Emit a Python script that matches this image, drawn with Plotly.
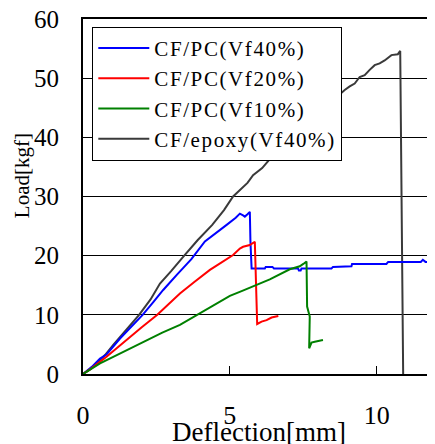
import plotly.graph_objects as go

# CF/PC (Vf40%)
pc40_x = [0, 0.3, 0.58, 0.8, 1.26, 1.6, 2.03, 2.4, 2.73, 3.2, 3.69, 4.15, 4.5, 4.89, 5.2, 5.34, 5.45,
          5.51, 5.6, 5.68, 5.70, 5.74, 6.19, 6.22, 6.45, 6.5, 7.32, 7.35, 7.41, 7.44, 8.46, 8.51, 9.14,
          9.16, 10.33, 10.39, 11.5, 11.57, 11.66, 11.97]
pc40_y = [0, 1.2, 2.6, 3.3, 6.0, 7.8, 10.0, 12.2, 14.2, 16.8, 19.4, 22.4, 23.8, 25.2, 26.4, 27.1, 26.8,
          26.6, 27.0, 27.4, 22.5, 17.85, 17.85, 18.1, 18.1, 17.85, 17.85, 17.5, 17.5, 17.85, 17.85, 18.1,
          18.2, 18.6, 18.6, 18.95, 18.95, 19.3, 18.95, 18.95]

# CF/PC (Vf20%)
pc20_x = [0, 0.3, 0.8, 1.2, 1.6, 2.0, 2.53, 3.0, 3.3, 3.8, 4.32, 4.6, 5.0, 5.11, 5.34, 5.45, 5.68,
          5.79, 5.85, 5.9, 5.93, 6.08, 6.25, 6.42, 6.65]
pc20_y = [0, 1.0, 2.9, 4.6, 6.3, 7.9, 10.0, 12.2, 13.6, 15.6, 17.6, 18.5, 19.7, 20.1, 21.2, 21.5, 21.8,
          22.1, 22.35, 13.6, 8.45, 8.85, 9.1, 9.55, 9.8]

# CF/PC (Vf10%)
pc10_x = [0, 0.3, 0.58, 1.03, 1.6, 2.16, 2.7, 3.3, 3.9, 4.45, 5.0, 5.4, 5.85, 6.36, 7.04, 7.38, 7.5,
          7.61, 7.63, 7.72, 7.70, 7.78, 7.89, 8.17]
pc10_y = [0, 1.0, 1.8, 2.9, 4.3, 5.7, 7.0, 8.3, 10.0, 11.6, 13.2, 14.0, 14.9, 16.0, 17.7, 18.2, 18.6,
          19.0, 11.4, 9.7, 4.34, 5.3, 5.45, 5.74]

# CF/epoxy (Vf40%)
ep_x = [0, 0.25, 0.46, 0.75, 1.03, 1.4, 1.91, 2.3, 2.62, 3.0, 3.3, 3.41, 3.9, 4.4, 4.8, 5.11, 5.6,
        5.79, 6.1, 6.58, 7.3, 8.1, 8.91, 9.08, 9.25, 9.42, 9.59, 9.76, 9.93, 10.1, 10.27, 10.5, 10.72,
        10.8, 10.86, 10.9]
ep_y = [0, 0.8, 1.8, 3.2, 4.9, 7.0, 10.0, 12.6, 15.3, 17.4, 19.3, 19.8, 22.6, 25.2, 27.7, 30.0, 32.3,
        33.6, 34.8, 37.6, 41.0, 44.5, 48.0, 48.6, 49.1, 50.2, 50.5, 51.4, 52.2, 52.5, 53.0, 53.9, 54.05,
        54.6, 20.0, 0]

series_names = ["CF/PC(Vf40%)", "CF/PC(Vf20%)", "CF/PC(Vf10%)", "CF/epoxy(Vf40%)"]
series_x = [pc40_x, pc20_x, pc10_x, ep_x]
series_y = [pc40_y, pc20_y, pc10_y, ep_y]
series_colors = ["#0000FF", "#FF0000", "#008000", "#3A3A3A"]

x_ticks = [0, 5, 10]
y_ticks = [0, 10, 20, 30, 40, 50, 60]

FONT = "Liberation Serif, Times New Roman, serif"

fig = go.Figure()
order = [3, 0, 1, 2]
for i in order:
    fig.add_trace(go.Scatter(
        x=series_x[i], y=series_y[i], mode="lines",
        name='<span style="letter-spacing:1.6px">' + series_names[i] + '</span>',
        line=dict(color=series_colors[i], width=2), legendrank=i + 1,
    ))

# the page body has an 8px default margin, so the figure is 8px smaller than the window
fig.update_layout(
    width=427, height=436,
    margin=dict(l=75, r=1, t=11, b=70, autoexpand=False),
    paper_bgcolor="white", plot_bgcolor="white",
    showlegend=True,
    legend=dict(
        x=0.0265, y=0.978, xanchor="left", yanchor="top",
        bgcolor="white", bordercolor="black", borderwidth=1,
        font=dict(family=FONT, size=21, color="black"),
        itemwidth=51, tracegroupgap=0,
    ),
    font=dict(family=FONT, color="black"),
)

fig.update_xaxes(
    range=[0, 11.95], tickvals=x_ticks, ticktext=[str(v) for v in x_ticks],
    ticks="inside", ticklen=8, tickwidth=1, tickcolor="black",
    showline=True, linecolor="black", linewidth=2, mirror=True,
    showgrid=False, zeroline=False, automargin=False,
    tickfont=dict(family=FONT, size=26, color="black"),
    ticklabelstandoff=17, ticklabeloverflow="allow",
)
fig.update_yaxes(
    range=[0, 60], tickvals=y_ticks, ticktext=[str(v) for v in y_ticks],
    ticks="inside", ticklen=5, tickwidth=1, tickcolor="black",
    showline=True, linecolor="black", linewidth=2, mirror=True,
    showgrid=True, gridcolor="black", gridwidth=1, zeroline=False, automargin=False,
    tickfont=dict(family=FONT, size=25, color="black"),
    ticklabelstandoff=17, ticklabeloverflow="allow",
)

fig.add_annotation(
    text="Load[kgf]", textangle=-90, xref="paper", yref="paper",
    x=-0.174, y=0.56, xanchor="center", yanchor="middle", showarrow=False,
    font=dict(family=FONT, size=21, color="black"),
)
fig.add_annotation(
    text="Deflection[mm]", xref="paper", yref="paper",
    x=0.5, y=-0.163, xanchor="center", yanchor="middle", showarrow=False,
    font=dict(family=FONT, size=27, color="black"),
)

fig.write_html("out.html")
